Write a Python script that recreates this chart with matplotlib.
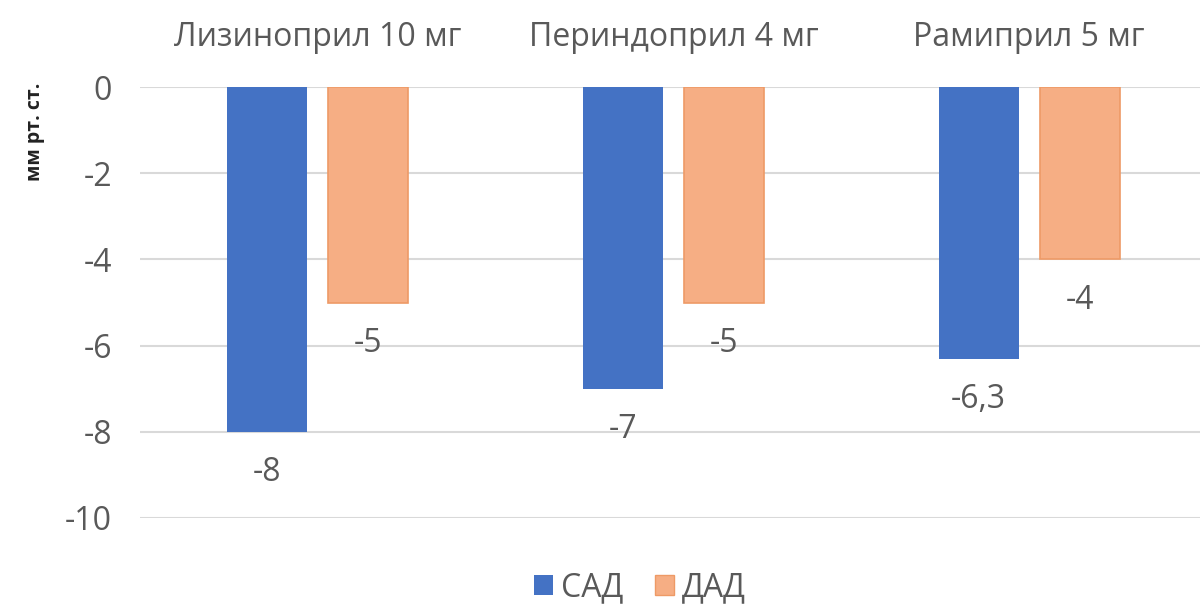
import matplotlib
matplotlib.use("Agg")
import matplotlib.pyplot as plt
import numpy as np
from matplotlib.patches import Patch

plt.rcParams['font.family'] = ['Open Sans', 'DejaVu Sans']

categories = ["Лизиноприл 10 мг", "Периндоприл 4 мг", "Рамиприл 5 мг"]
series_names = ["САД", "ДАД"]
sad = [-8, -7, -6.3]
dad = [-5, -5, -4]
yticks = [0, -2, -4, -6, -8, -10]

blue = "#4472C4"
orange = "#F6AE84"
orange_edge = "#EE9A66"
text_gray = "#595959"
fs = 23

fig = plt.figure(figsize=(12, 6.07), dpi=100)
ax = fig.add_axes([140 / 1200, 1 - 518 / 607, 1067 / 1200, (518 - 87) / 607])

x = np.arange(len(categories))
width = 0.225
offset = 0.142

b1 = ax.bar(x - offset, sad, width, color=blue, zorder=3)
b2 = ax.bar(x + offset, dad, width, color=orange, edgecolor=orange_edge,
            linewidth=1.2, zorder=3)


def fmt(v):
    return f"{v:g}".replace(".", ",")


for bars, vals in ((b1, sad), (b2, dad)):
    for rect, v in zip(bars, vals):
        ax.annotate(fmt(v), (rect.get_x() + rect.get_width() / 2, v),
                    xytext=(0, -29.5), textcoords="offset points",
                    ha="center", va="center", fontsize=fs, color=text_gray)

ax.set_xlim(-0.5, len(categories) - 0.5)
ax.set_ylim(-10, 0)
ax.set_yticks(yticks)
ax.set_yticklabels([str(t) for t in yticks])
ax.yaxis.grid(True, color="#D9D9D9", linewidth=1.5, zorder=0)
ax.set_axisbelow(True)

ax.xaxis.set_ticks_position("top")
ax.set_xticks(x)
ax.set_xticklabels(categories)
ax.tick_params(axis="x", length=0, pad=24, labelsize=fs, labelcolor=text_gray)
ax.tick_params(axis="y", length=0, pad=20, labelsize=fs, labelcolor=text_gray)

for s in ax.spines.values():
    s.set_visible(False)

fig.text(35 / 1200, 1 - 132 / 607, "мм рт. ст.", rotation=90, ha="center",
         va="center", fontsize=14, fontweight="bold", color="#222222")

handles = [Patch(facecolor=blue), Patch(facecolor=orange, edgecolor=orange_edge)]
fig.legend(handles, series_names, loc="center", bbox_to_anchor=(640 / 1200, 1 - 588 / 607),
           ncol=2, frameon=False, fontsize=fs, labelcolor=text_gray,
           handlelength=0.6, handleheight=0.6, handletextpad=0.25, columnspacing=1.0)

fig.savefig("out.png", dpi=100, facecolor="white")
